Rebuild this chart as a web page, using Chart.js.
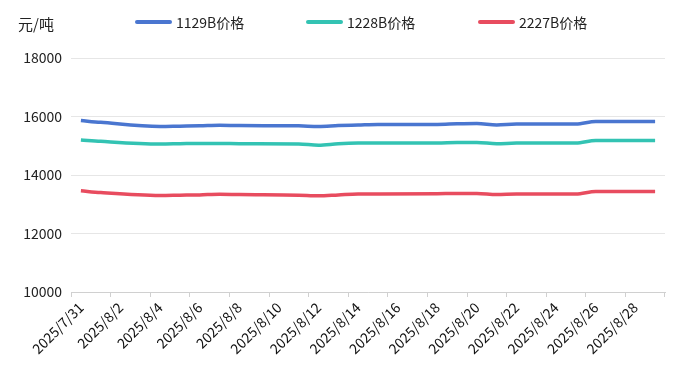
<!DOCTYPE html>
<html>
<head>
<meta charset="utf-8">
<script src="https://cdn.jsdelivr.net/npm/chart.js@4"></script>
<style>
  html, body { margin: 0; padding: 0; background: #fff; }
  #wrap { position: relative; width: 683px; height: 378px; font-family: "Noto Sans CJK SC", "Noto Sans", sans-serif; }
  #unit { position: absolute; left: 18px; top: 13px; font-size: 15px; color: #222; }
  #legend { position: absolute; top: 12px; left: 0; width: 683px; height: 20px; }
  .item { position: absolute; top: 0; display: flex; align-items: center; font-size: 14px; color: #222; line-height: 20px; }
  .bar { width: 37px; height: 4px; border-radius: 2px; margin-right: 4px; }
  canvas { position: absolute; left: 0; top: 0; }
</style>
</head>
<body>
<div id="wrap">
  <canvas id="c" width="683" height="378"></canvas>
  <div id="unit">元/吨</div>
  <div id="legend"></div>
</div>
<script>
const categories = ["2025/7/31","2025/8/1","2025/8/2","2025/8/3","2025/8/4","2025/8/5","2025/8/6","2025/8/7","2025/8/8","2025/8/9","2025/8/10","2025/8/11","2025/8/12","2025/8/13","2025/8/14","2025/8/15","2025/8/16","2025/8/17","2025/8/18","2025/8/19","2025/8/20","2025/8/21","2025/8/22","2025/8/23","2025/8/24","2025/8/25","2025/8/26","2025/8/27","2025/8/28","2025/8/29"];
const seriesNames = ["1129B价格", "1228B价格", "2227B价格"];
const price1129B = [15860,15800,null,null,15660,15670,15680,15700,15690,null,null,15680,15660,15690,15710,15730,null,null,15730,15750,15760,15710,15740,null,null,15740,15830,15830,15830,15830];
const price1228B = [15200,15150,null,null,15060,15070,15080,15080,15070,null,null,15060,15020,15070,15090,15090,null,null,15090,15110,15110,15070,15090,null,null,15090,15180,15180,15180,15180];
const price2227B = [13460,13400,null,null,13300,13310,13320,13340,13330,null,null,13310,13290,13320,13350,13350,null,null,13360,13370,13370,13330,13350,null,null,13350,13440,13440,13440,13440];
const yTicks = [10000, 12000, 14000, 16000, 18000];

const colors = ["#4a76d0", "#33c3b3", "#e84c5f"];
const legendLeft = [135, 306, 478];

const legendEl = document.getElementById('legend');
seriesNames.forEach((n, i) => {
  const it = document.createElement('div');
  it.className = 'item';
  it.style.left = legendLeft[i] + 'px';
  const b = document.createElement('span');
  b.className = 'bar';
  b.style.background = colors[i];
  const t = document.createElement('span');
  t.textContent = n;
  it.appendChild(b); it.appendChild(t);
  legendEl.appendChild(it);
});

const lastTickPlugin = {
  id: 'lastTick',
  afterDraw(chart) {
    const s = chart.scales.x;
    const ctx = chart.ctx;
    ctx.save();
    ctx.strokeStyle = '#d0d0d0';
    ctx.lineWidth = 1;
    ctx.beginPath();
    const x = Math.round(s.right) - 0.5;
    ctx.moveTo(x, s.top);
    ctx.lineTo(x, s.top + 5);
    ctx.stroke();
    ctx.restore();
  }
};

const fontFam = '"Noto Sans CJK SC", "Noto Sans", sans-serif';
const mk = (label, data, color) => ({
  label, data,
  borderColor: color, backgroundColor: color,
  borderWidth: 3.5, pointRadius: 0, pointHoverRadius: 0,
  spanGaps: true, cubicInterpolationMode: 'monotone', fill: false
});

new Chart(document.getElementById('c'), {
  type: 'line',
  data: {
    labels: categories,
    datasets: [
      mk(seriesNames[0], price1129B, colors[0]),
      mk(seriesNames[1], price1228B, colors[1]),
      mk(seriesNames[2], price2227B, colors[2])
    ]
  },
  options: {
    responsive: false,
    devicePixelRatio: 1,
    animation: false,
    layout: { padding: { top: 58, right: 18, left: 0, bottom: 0 } },
    plugins: { legend: { display: false }, tooltip: { enabled: false } },
    scales: {
      x: {
        type: 'category',
        offset: true,
        afterFit(s) { s.height = 86; },
        grid: {
          offset: true,
          drawOnChartArea: false,
          drawTicks: true,
          tickLength: 5,
          color: (ctx) => (ctx.index % 2 === 0 ? '#d0d0d0' : 'rgba(0,0,0,0)')
        },
        border: { display: true, color: '#d0d0d0' },
        ticks: {
          autoSkip: false,
          maxRotation: 45, minRotation: 45,
          padding: 2,
          color: '#111',
          font: { family: fontFam, size: 14 },
          callback: function (v, i) { return i % 2 === 0 ? this.getLabelForValue(v) : ''; }
        }
      },
      y: {
        min: yTicks[0], max: yTicks[yTicks.length - 1],
        afterFit(s) { s.width = 71; },
        afterBuildTicks(s) { s.ticks = yTicks.map(v => ({ value: v })); },
        grid: { color: '#e6e6e6', drawTicks: false },
        border: { display: false },
        ticks: {
          padding: 9,
          color: '#222',
          font: { family: fontFam, size: 14 },
          callback: (v) => String(v)
        }
      }
    }
  },
  plugins: [lastTickPlugin]
});
</script>
</body>
</html>
